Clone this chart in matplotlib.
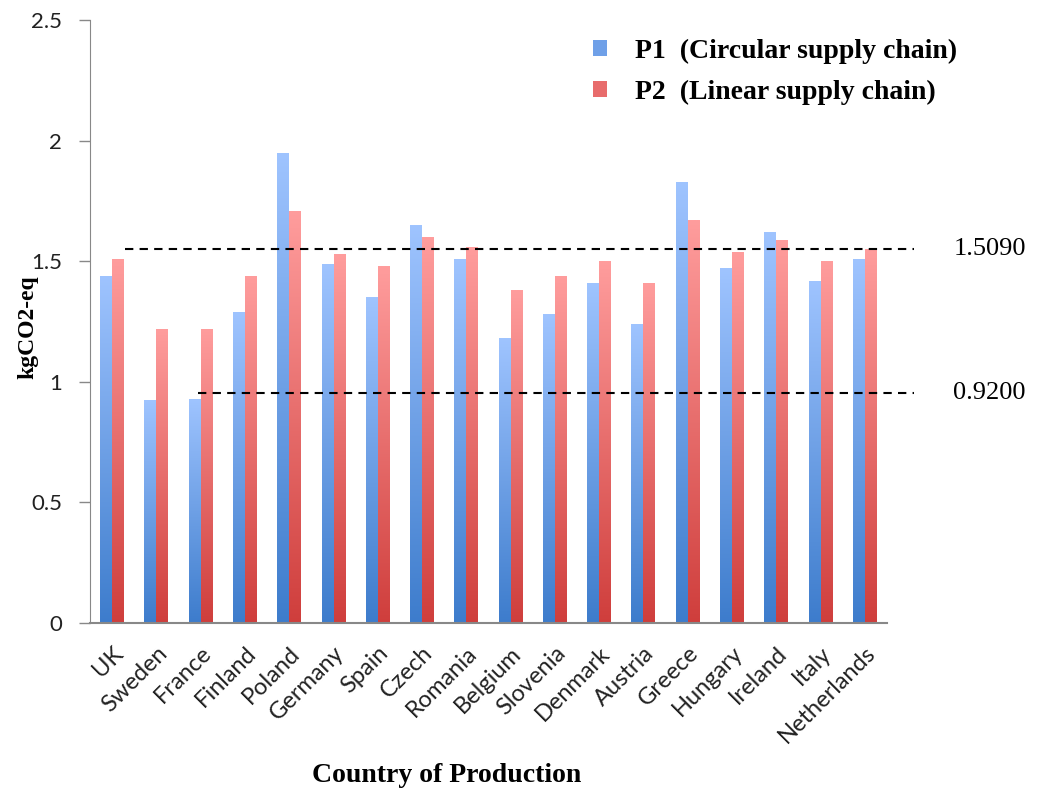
import matplotlib
matplotlib.use("Agg")
import matplotlib.pyplot as plt
import numpy as np
from matplotlib.colors import LinearSegmentedColormap

countries = ['UK', 'Sweden', 'France', 'Finland', 'Poland', 'Germany', 'Spain',
             'Czech', 'Romania', 'Belgium', 'Slovenia', 'Denmark', 'Austria',
             'Greece', 'Hungary', 'Ireland', 'Italy', 'Netherlands']
p1 = [1.44, 0.925, 0.93, 1.29, 1.95, 1.49, 1.35, 1.65, 1.51, 1.18, 1.28, 1.41,
      1.24, 1.83, 1.47, 1.62, 1.42, 1.51]
p2 = [1.51, 1.22, 1.22, 1.44, 1.71, 1.53, 1.48, 1.60, 1.56, 1.38, 1.44, 1.50,
      1.41, 1.67, 1.54, 1.59, 1.50, 1.55]
ref_labels = ['1.5090', '0.9200']
ref_levels = [1.55, 0.955]

blue_cmap = LinearSegmentedColormap.from_list('b', ['#3d7ccc', '#9fc4ff'])
red_cmap = LinearSegmentedColormap.from_list('r', ['#cf3e3c', '#ff9d9d'])

fig = plt.figure(figsize=(10.37, 7.92), dpi=100)
ax = fig.add_axes([0.0868, 0.2134, 0.7685, 0.7613])

x = np.arange(len(countries))
width = 0.27

bars1 = ax.bar(x - width / 2, p1, width, color='none', label='P1  (Circular supply chain)')
bars2 = ax.bar(x + width / 2, p2, width, color='none', label='P2  (Linear supply chain)')

grad = np.linspace(0, 1, 256).reshape(-1, 1)


def fill_gradient(rects, cmap):
    for r in rects:
        x0, y0 = r.get_x(), r.get_y()
        w, h = r.get_width(), r.get_height()
        im = ax.imshow(grad, cmap=cmap, aspect='auto', origin='lower',
                       extent=(x0, x0 + w, y0, y0 + h), zorder=2)
        im.set_clip_path(r)


fill_gradient(bars1, blue_cmap)
fill_gradient(bars2, red_cmap)

ax.set_xlim(-0.5, len(countries) - 0.5)
ax.set_ylim(0, 2.5)
ax.set_yticks([0, 0.5, 1, 1.5, 2, 2.5])
ax.set_yticklabels(['0', '0.5', '1', '1.5', '2', '2.5'])
ax.set_xticks(x)
ax.set_xticklabels(countries, rotation=45, ha='right', rotation_mode='anchor')

for lab in ax.get_yticklabels():
    lab.set_fontfamily('Lato')
    lab.set_fontsize(16)
    lab.set_color('#222222')
for lab in ax.get_xticklabels():
    lab.set_fontfamily('Lato')
    lab.set_fontsize(17)
    lab.set_color('#222222')

ax.tick_params(axis='x', length=0, pad=14)
ax.tick_params(axis='y', length=8, width=1, color='#888888', pad=12)
for s in ['top', 'right']:
    ax.spines[s].set_visible(False)
ax.spines['left'].set_color('#888888')
ax.spines['bottom'].set_color('#888888')
ax.spines['bottom'].set_linewidth(1.5)

# dashed reference lines (extend past the axis end)
ax.plot([0.3, 18.1], [ref_levels[0]] * 2, ls=(0, (4, 3)), color='black', lw=1.5,
        clip_on=False, zorder=4)
ax.plot([1.95, 18.1], [ref_levels[1]] * 2, ls=(0, (4, 3)), color='black', lw=1.5,
        clip_on=False, zorder=4)
for lab, lv in zip(ref_labels, ref_levels):
    ax.text(19.0, lv, lab, fontsize=19, family='Liberation Serif',
            va='center', ha='left', clip_on=False)

ax.set_ylabel('kgCO2-eq', fontsize=17, family='Liberation Serif',
              fontweight='bold')
ax.yaxis.set_label_coords(-0.065, 0.49)
ax.set_xlabel('Country of Production', fontsize=20, family='Liberation Serif',
              fontweight='bold')
ax.xaxis.set_label_coords(0.448, -0.232)

leg = ax.legend(loc='upper left', bbox_to_anchor=(0.6, 1.01), frameon=False,
                prop={'family': 'Liberation Serif', 'weight': 'bold', 'size': 20},
                handlelength=0.5, handleheight=0.5, handletextpad=1.0,
                labelspacing=0.55)
for h, c in zip(leg.legend_handles, ['#6fa0e8', '#e86c6c']):
    h.set_facecolor(c)

fig.savefig('out.png', dpi=100)
